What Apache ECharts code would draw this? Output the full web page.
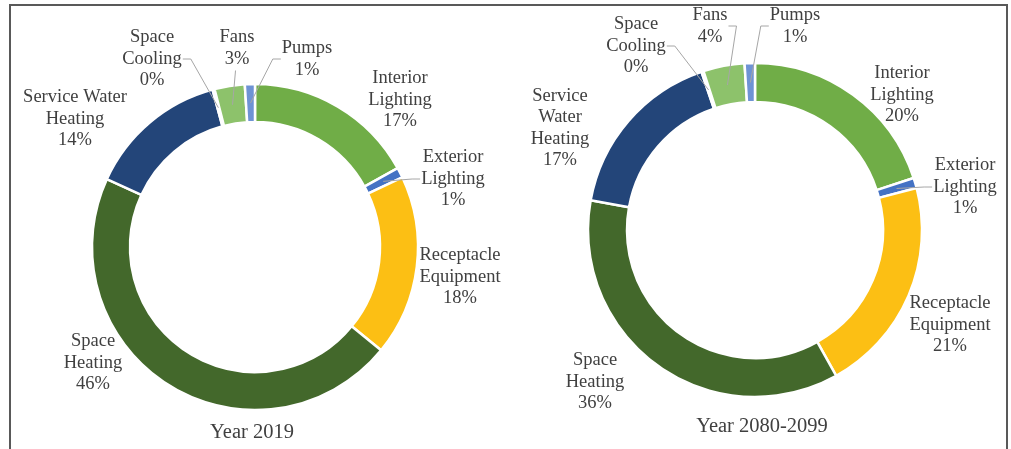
<!DOCTYPE html>
<html>
<head>
<meta charset="utf-8">
<title>Energy end use shares</title>
<script src="https://cdn.jsdelivr.net/npm/echarts@6/dist/echarts.min.js"></script>
<style>
  html, body { margin: 0; padding: 0; background: #fff; }
  #chart { width: 1011px; height: 449px; }
</style>
</head>
<body>
<div id="chart"></div>
<script>
// end uses, clockwise from 12 o'clock
var categories = ['Interior Lighting', 'Exterior Lighting', 'Receptacle Equipment', 'Space Heating',
  'Service Water Heating', 'Space Cooling', 'Fans', 'Pumps'];
// share of total (%)
var share2019 = [17, 1, 18, 46, 14, 0.2, 3, 1];
var share2080 = [20, 1, 21, 36, 17, 0.2, 4, 1];
var titles = ['Year 2019', 'Year 2080-2099'];

var colors = ['#70ad47', '#4472c4', '#fcbf14', '#43682b', '#234579', '#a5a5a5', '#8dc26b', '#6e93d4'];
var withLine = { 'Exterior Lighting': true, 'Space Cooling': true, 'Fans': true, 'Pumps': true };

// how each chart wraps its labels (Excel wraps by box width)
var wrapLeft = {
  'Interior Lighting': 'Interior\nLighting', 'Exterior Lighting': 'Exterior\nLighting',
  'Receptacle Equipment': 'Receptacle\nEquipment', 'Space Heating': 'Space\nHeating',
  'Service Water Heating': 'Service Water\nHeating', 'Space Cooling': 'Space\nCooling',
  'Fans': 'Fans', 'Pumps': 'Pumps'
};
var wrapRight = Object.assign({}, wrapLeft, { 'Service Water Heating': 'Service\nWater\nHeating' });

// label block centres (px)
var labelPosLeft = [[400, 100], [453, 179], [460, 277], [93, 363], [75, 119], [152, 59], [237, 48], [307, 59]];
var labelPosRight = [[902, 95], [965, 187], [950, 325], [595, 382], [560, 128], [636, 46], [710, 26], [795, 26]];

var chart = echarts.init(document.getElementById('chart'));

// two series per donut: the coloured ring, and a transparent copy on top
// that carries the labels so the leader lines are drawn over the slices
function makeSeries(values, center, radius, wrap, pos) {
  var total = values.reduce(function (a, b) { return a + b; }, 0);
  // leader line end: middle of the slice (like Excel)
  function sliceMid(idx) {
    var before = 0;
    for (var i = 0; i < idx; i++) before += values[i];
    var phi = (before + values[idx] / 2) / total * 2 * Math.PI;
    var r = (radius[0] + radius[1]) / 2;
    return [center[0] + r * Math.sin(phi), center[1] - r * Math.cos(phi)];
  }
  var ring = {
    type: 'pie',
    z: 2,
    center: center,
    radius: radius,
    startAngle: 90,
    clockwise: true,
    animation: false,
    silent: true,
    itemStyle: { borderColor: '#fff', borderWidth: 2.5 },
    label: { show: false },
    labelLine: { show: false },
    data: categories.map(function (name, i) {
      return { name: name, value: values[i], itemStyle: { color: colors[i] } };
    })
  };
  var labels = {
    type: 'pie',
    z: 3,
    center: center,
    radius: radius,
    startAngle: 90,
    clockwise: true,
    avoidLabelOverlap: false,
    animation: false,
    silent: true,
    itemStyle: { color: 'rgba(0,0,0,0)', borderWidth: 0 },
    label: {
      show: true,
      position: 'outside',
      fontFamily: 'Liberation Serif',
      fontSize: 18.5,
      lineHeight: 21.5,
      color: '#404040',
      align: 'center',
      formatter: function (p) {
        return wrap[p.name] + '\n' + Math.round(p.value) + '%';
      }
    },
    labelLine: { show: false },
    labelLayout: function (p) {
      var xy = pos[p.dataIndex];
      var out = { x: xy[0], y: xy[1], align: 'center', verticalAlign: 'middle' };
      if (withLine[categories[p.dataIndex]]) {
        var a = sliceMid(p.dataIndex);
        var w = p.labelRect.width, h = p.labelRect.height;
        var left = xy[0] - w / 2, right = xy[0] + w / 2;
        var e, k;
        if (a[0] > left + 4 && a[0] < right - 4) {
          e = [a[0] + 3, xy[1] + h / 2 + 1];
          k = e;
        } else if (a[0] >= right - 4) {
          e = [right + 1, xy[1]];
          k = [right + 9, xy[1]];
        } else {
          e = [left - 1, xy[1]];
          k = [left - 9, xy[1]];
        }
        out.labelLinePoints = [a, k, e];
      }
      return out;
    },
    emphasis: { disabled: true },
    data: categories.map(function (name, i) {
      return {
        name: name,
        value: values[i],
        labelLine: {
          show: !!withLine[name],
          lineStyle: { color: '#a6a6a6', width: 1 }
        }
      };
    })
  };
  return [ring, labels];
}

chart.setOption({
  backgroundColor: '#fff',
  graphic: [
    {
      type: 'rect',
      shape: { x: 10, y: 5, width: 997, height: 460 },
      style: { fill: null, stroke: '#595959', lineWidth: 2 },
      silent: true
    },
    {
      type: 'text', x: 252, y: 433,
      style: { text: titles[0], font: '20.5px "Liberation Serif"', fill: '#404040', textAlign: 'center', textVerticalAlign: 'middle' }
    },
    {
      type: 'text', x: 762, y: 427,
      style: { text: titles[1], font: '20.5px "Liberation Serif"', fill: '#404040', textAlign: 'center', textVerticalAlign: 'middle' }
    }
  ],
  series: [].concat(
    makeSeries(share2019, [255, 247], [125, 163], wrapLeft, labelPosLeft),
    makeSeries(share2080, [755, 230], [128, 167], wrapRight, labelPosRight)
  )
});
</script>
</body>
</html>
